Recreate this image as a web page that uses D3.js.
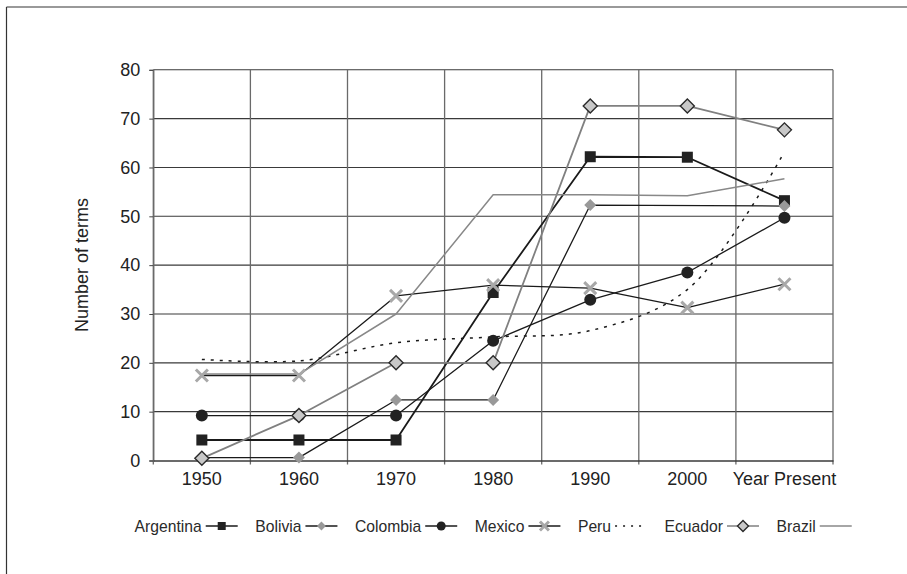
<!DOCTYPE html>
<html>
<head>
<meta charset="utf-8">
<script src="https://cdn.jsdelivr.net/npm/d3@7"></script>
<style>
  html, body { margin: 0; padding: 0; background: #fff; }
  svg { display: block; font-family: "Liberation Sans", Arial, sans-serif; }
</style>
</head>
<body>
<svg id="chart" width="907" height="574"></svg>
<script>
// ---- data ----
const categories = ["1950", "1960", "1970", "1980", "1990", "2000", "Year Present"];
const yTicks = [0, 10, 20, 30, 40, 50, 60, 70, 80];
const seriesNames = ["Argentina", "Bolivia", "Colombia", "Mexico", "Peru", "Ecuador", "Brazil"];
const argentina = [4.2, 4.2, 4.2, 34.4, 62.2, 62.1, 53.2];
const bolivia   = [0.6, 0.6, 12.4, 12.4, 52.3, null, 52.1];
const colombia  = [9.2, 9.2, 9.2, 24.5, 32.9, 38.5, 49.7];
const mexico    = [17.4, 17.4, 33.7, 35.9, 35.3, 31.3, 36.1];
const peru      = [20.7, 20.4, 24.1, 25.3, 26.6, 35.0, 63.2];
const ecuador   = [0.45, 9.2, 20.0, 20.0, 72.6, 72.6, 67.7];
const brazil    = [17.7, 17.7, 30.0, 54.4, 54.4, 54.2, 57.7];
const yTitle = "Number of terms";

// ---- styles ----
const styles = {
  Argentina: { line: "#1a1a1a", width: 1.8, dash: null, marker: "square", fill: "#222", stroke: "none" },
  Bolivia:   { line: "#1a1a1a", width: 1.3, dash: null, marker: "diamond", fill: "#999", stroke: "none" },
  Colombia:  { line: "#1a1a1a", width: 1.3, dash: null, marker: "circle", fill: "#222", stroke: "none" },
  Mexico:    { line: "#1a1a1a", width: 1.3, dash: null, marker: "x", fill: "none", stroke: "#a8a8a8" },
  Peru:      { line: "#1a1a1a", width: 1.5, dash: "3,6", marker: null },
  Ecuador:   { line: "#808080", width: 1.8, dash: null, marker: "diamond2", fill: "#c8c8c8", stroke: "#2a2a2a" },
  Brazil:    { line: "#888888", width: 1.5, dash: null, marker: null }
};
const seriesValues = [argentina, bolivia, colombia, mexico, peru, ecuador, brazil];

const svg = d3.select("#chart");
svg.append("rect").attr("width", 907).attr("height", 574).attr("fill", "#fff");

// outer frame (top and left)
svg.append("line").attr("x1", 6.5).attr("x2", 907).attr("y1", 7).attr("y2", 7)
  .attr("stroke", "#777").attr("stroke-width", 1.5);
svg.append("line").attr("x1", 6.5).attr("x2", 6.5).attr("y1", 7).attr("y2", 574)
  .attr("stroke", "#333").attr("stroke-width", 1.2);

const pLeft = 153.3, pRight = 833, pTop = 69.8, pBottom = 460.5;
const x = d3.scaleBand().domain(categories).range([pLeft, pRight]).padding(0);
const y = d3.scaleLinear().domain([0, 80]).range([pBottom, pTop]);
const cx = d => x(d) + x.bandwidth() / 2;

// horizontal gridlines
svg.append("g").selectAll("line").data(yTicks.filter(t => t > 0)).join("line")
  .attr("x1", pLeft).attr("x2", pRight)
  .attr("y1", d => y(d)).attr("y2", d => y(d))
  .attr("stroke", "#3a3a3a").attr("stroke-width", 1.1);

// vertical gridlines at band boundaries (extend below as ticks)
const bounds = categories.map(c => x(c)).concat([x.range()[1]]);
svg.append("g").selectAll("line").data(bounds).join("line")
  .attr("x1", d => d).attr("x2", d => d)
  .attr("y1", pTop).attr("y2", pBottom + 4)
  .attr("stroke", "#6a6a6a").attr("stroke-width", 1.3);

// y axis
const yAxis = svg.append("g").attr("transform", `translate(${pLeft},0)`)
  .call(d3.axisLeft(y).tickValues(yTicks).tickSize(4).tickPadding(9).tickFormat(d3.format("d")));
yAxis.select(".domain").attr("stroke", "#6a6a6a").attr("stroke-width", 1.3);
yAxis.selectAll(".tick line").attr("stroke", "#444");
yAxis.selectAll("text").attr("font-size", 18).attr("fill", "#222")
  .attr("font-family", "Liberation Sans, Arial, sans-serif");

// x axis
const xAxis = svg.append("g").attr("transform", `translate(0,${pBottom})`)
  .call(d3.axisBottom(x).tickSize(0).tickPadding(12));
xAxis.select(".domain").attr("stroke", "#3a3a3a").attr("stroke-width", 1.3);
xAxis.selectAll("text").attr("font-size", 18).attr("fill", "#222")
  .attr("font-family", "Liberation Sans, Arial, sans-serif");

// y title
svg.append("text").attr("transform", `translate(88,265) rotate(-90)`)
  .attr("text-anchor", "middle").attr("font-size", 18).attr("fill", "#222")
  .text(yTitle);

// markers
function drawMarker(g, type, st, px, py, s) {
  if (type === "square") {
    g.append("rect").attr("x", px - s / 2).attr("y", py - s / 2).attr("width", s).attr("height", s)
      .attr("fill", st.fill);
  } else if (type === "diamond" || type === "diamond2") {
    const h = s / 2;
    g.append("path").attr("d", `M${px},${py - h}L${px + h},${py}L${px},${py + h}L${px - h},${py}Z`)
      .attr("fill", st.fill).attr("stroke", st.stroke).attr("stroke-width", type === "diamond2" ? 1.4 : 0);
  } else if (type === "circle") {
    g.append("circle").attr("cx", px).attr("cy", py).attr("r", s / 2).attr("fill", st.fill);
  } else if (type === "x") {
    const h = s / 2;
    g.append("path").attr("d", `M${px - h},${py - h}L${px + h},${py + h}M${px + h},${py - h}L${px - h},${py + h}`)
      .attr("stroke", st.stroke).attr("stroke-width", 3).attr("fill", "none");
  }
}
const markerSize = { square: 11, diamond: 12, circle: 12, x: 12, diamond2: 14 };
const legendSize = { square: 8, diamond: 9, circle: 9, x: 9, diamond2: 11 };

// lines
const plotG = svg.append("g");
seriesNames.forEach((name, i) => {
  const st = styles[name];
  const pts = seriesValues[i].map((v, j) => ({ c: categories[j], v })).filter(p => p.v !== null);
  const line = d3.line().x(p => cx(p.c)).y(p => y(p.v));
  if (name === "Peru") line.curve(d3.curveCatmullRom.alpha(0.5));
  plotG.append("path").datum(pts).attr("d", line)
    .attr("fill", "none").attr("stroke", st.line).attr("stroke-width", st.width)
    .attr("stroke-dasharray", st.dash).attr("stroke-linejoin", "round");
});
seriesNames.forEach((name, i) => {
  const st = styles[name];
  if (!st.marker) return;
  const g = plotG.append("g");
  seriesValues[i].forEach((v, j) => {
    if (v === null) return;
    drawMarker(g, st.marker, st, cx(categories[j]), y(v), markerSize[st.marker]);
  });
});

// legend
const legend = svg.append("g");
const legY = 526, symW = 32, gapText = 4, gapItem = 17.5;
let lx = 0;
seriesNames.forEach(name => {
  const st = styles[name];
  const item = legend.append("g");
  const t = item.append("text").attr("x", 0).attr("y", legY + 5.6)
    .attr("font-size", 15.7).attr("fill", "#2a2a2a").text(name);
  const tw = t.node().getComputedTextLength();
  const sx = tw + gapText;
  item.append("line").attr("x1", sx).attr("x2", sx + symW).attr("y1", legY).attr("y2", legY)
    .attr("stroke", st.line).attr("stroke-width", 1.4).attr("stroke-dasharray", st.dash ? "2,6" : null);
  if (st.marker) drawMarker(item, st.marker, st, sx + symW / 2, legY, legendSize[st.marker]);
  item.attr("transform", `translate(${lx},0)`);
  lx += sx + symW + gapItem;
});
const totalW = lx - gapItem;
legend.attr("transform", `translate(${(pLeft + pRight) / 2 - totalW / 2},0)`);
</script>
</body>
</html>
